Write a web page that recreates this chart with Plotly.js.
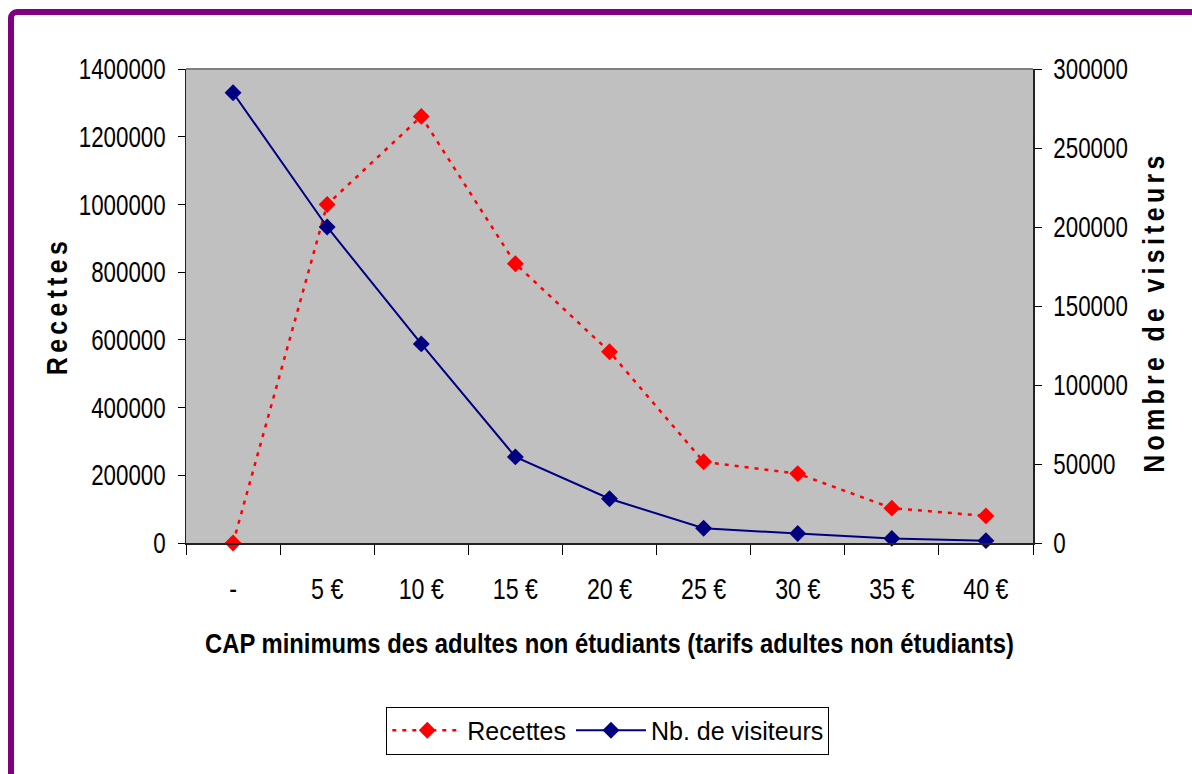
<!DOCTYPE html>
<html>
<head>
<meta charset="utf-8">
<script src="https://cdn.plot.ly/plotly-3.0.1.min.js"></script>
<style>
  html, body { margin: 0; padding: 0; width: 1192px; height: 774px; overflow: hidden; background: #fff; }
  #chart { position: absolute; left: 0; top: 0; width: 1192px; height: 774px; }
  #frame { position: absolute; left: 8px; top: 9px; width: 1260px; height: 840px;
           border: 6px solid #800080; border-radius: 9px; pointer-events: none; z-index: 5; }
  .g-ytitle text, .g-y2title text { letter-spacing: 5px; }
</style>
</head>
<body>
<div id="frame"></div>
<div id="chart"></div>
<script>
// Data
const categories = ['-', '5 €', '10 €', '15 €', '20 €', '25 €', '30 €', '35 €', '40 €'];
const recettes = [0, 1000000, 1260000, 825000, 565000, 240000, 205000, 103000, 80000];
const visiteurs = [285000, 200000, 126000, 54500, 28000, 9300, 6000, 2900, 1500];

const sans = '"Liberation Sans", Arial, sans-serif';

const traces = [
  {
    x: categories, y: recettes, name: 'Recettes', type: 'scatter', mode: 'lines+markers',
    line: { color: '#FF0000', width: 2.5, dash: '4px,6px' },
    marker: { symbol: 'diamond', size: 13, color: '#FF0000' },
    cliponaxis: false, xaxis: 'x', yaxis: 'y'
  },
  {
    x: categories, y: visiteurs, name: 'Nb. de visiteurs', type: 'scatter', mode: 'lines+markers',
    line: { color: '#000080', width: 2 },
    marker: { symbol: 'diamond', size: 13, color: '#000080' },
    cliponaxis: false, xaxis: 'x', yaxis: 'y2'
  }
];

const tickFont = { family: sans, size: 29, color: '#000' };

const layout = {
  width: 1192, height: 774,
  margin: { l: 186, r: 159, t: 69, b: 231 },
  paper_bgcolor: 'rgba(0,0,0,0)',
  plot_bgcolor: '#C0C0C0',
  showlegend: true,
  xaxis: {
    type: 'category', range: [-0.5, 8.5], tickson: 'boundaries',
    ticks: 'outside', ticklen: 10, tickcolor: '#000', tickwidth: 1,
    showline: true, linecolor: '#222', linewidth: 1.5,
    showgrid: false, zeroline: false,
    tickfont: tickFont, ticklabelstandoff: 20,
    title: { text: 'CAP minimums des adultes non étudiants (tarifs adultes non étudiants)',
             font: { family: sans, size: 28, color: '#000', weight: 'bold' }, standoff: 29 }
  },
  xaxis2: {
    overlaying: 'x', anchor: 'y', side: 'bottom', type: 'linear', range: [-0.5, 8.5],
    tick0: -0.5, dtick: 1, ticks: 'inside', ticklen: 10, tickcolor: '#000',
    showticklabels: false, showgrid: false, zeroline: false, showline: false
  },
  yaxis: {
    range: [0, 1400000], dtick: 200000, tickformat: 'd',
    ticks: 'outside', ticklen: 7, tickcolor: '#000',
    showline: true, linecolor: '#222', linewidth: 1.5,
    showgrid: false, zeroline: false,
    tickfont: tickFont, ticklabelstandoff: 6,
    title: { text: 'Recettes', font: { family: sans, size: 29, color: '#000', weight: 'bold' }, standoff: 0 }
  },
  yaxis2: {
    overlaying: 'y', side: 'right', anchor: 'x',
    range: [0, 300000], dtick: 50000, tickformat: 'd',
    ticks: 'outside', ticklen: 7, tickcolor: '#000',
    showline: true, linecolor: '#222', linewidth: 1.5,
    showgrid: false, zeroline: false,
    tickfont: tickFont, ticklabelstandoff: 6,
    title: { text: 'Nombre de visiteurs', font: { family: sans, size: 29, color: '#000', weight: 'bold' }, standoff: 0 }
  },
  yaxis3: {
    overlaying: 'y', side: 'left', anchor: 'x', range: [0, 1400000], dtick: 200000,
    ticks: 'inside', ticklen: 7, tickcolor: '#000',
    showticklabels: false, showgrid: false, zeroline: false, showline: false
  },
  yaxis4: {
    overlaying: 'y', side: 'right', anchor: 'x', range: [0, 300000], dtick: 50000,
    ticks: 'inside', ticklen: 7, tickcolor: '#000',
    showticklabels: false, showgrid: false, zeroline: false, showline: false
  },
  shapes: [
    { type: 'line', xref: 'paper', yref: 'paper', x0: 0, x1: 1, y0: 1, y1: 1,
      line: { color: '#808080', width: 2 } }
  ],
  legend: {
    orientation: 'h', x: 0.498, xanchor: 'center', y: -0.345, yanchor: 'top',
    bgcolor: '#fff', bordercolor: '#000', borderwidth: 1,
    font: { family: sans, size: 25, color: '#000' },
    itemwidth: 70, traceorder: 'normal'
  }
};

// Narrow the Arial-like glyphs to imitate Arial Narrow
function narrowText(selector, factor) {
  document.querySelectorAll(selector).forEach(function (t) {
    const len = t.getComputedTextLength();
    if (len > 0) {
      t.setAttribute('textLength', (len * factor).toFixed(2));
      t.setAttribute('lengthAdjust', 'spacingAndGlyphs');
    }
  });
}

function box(selector) {
  let l = Infinity, r = -Infinity;
  document.querySelectorAll(selector).forEach(function (t) {
    const b = t.getBoundingClientRect();
    if (b.width > 0) { l = Math.min(l, b.left); r = Math.max(r, b.right); }
  });
  return { l: l, r: r };
}

Plotly.newPlot('chart', traces, layout, { displayModeBar: false, staticPlot: true }).then(function () {
  narrowText('#chart .xtick text', 0.80);
  narrowText('#chart .ytick text, #chart .y2tick text', 0.77);
  narrowText('#chart .g-xtitle text', 0.85);
  narrowText('#chart .g-ytitle text, #chart .g-y2title text', 0.86);
  // keep the axis titles close to the narrowed tick labels
  const yl = box('#chart .ytick text'), yt = box('#chart .g-ytitle text');
  const g1 = document.querySelector('#chart .g-ytitle');
  if (g1 && isFinite(yl.l)) g1.setAttribute('transform', 'translate(' + ((yl.l - 6) - yt.r).toFixed(1) + ',0)');
  const yr = box('#chart .y2tick text'), y2t = box('#chart .g-y2title text');
  const g2 = document.querySelector('#chart .g-y2title');
  if (g2 && isFinite(yr.r)) g2.setAttribute('transform', 'translate(' + ((yr.r + 17) - y2t.l).toFixed(1) + ',6)');
});
</script>
</body>
</html>
